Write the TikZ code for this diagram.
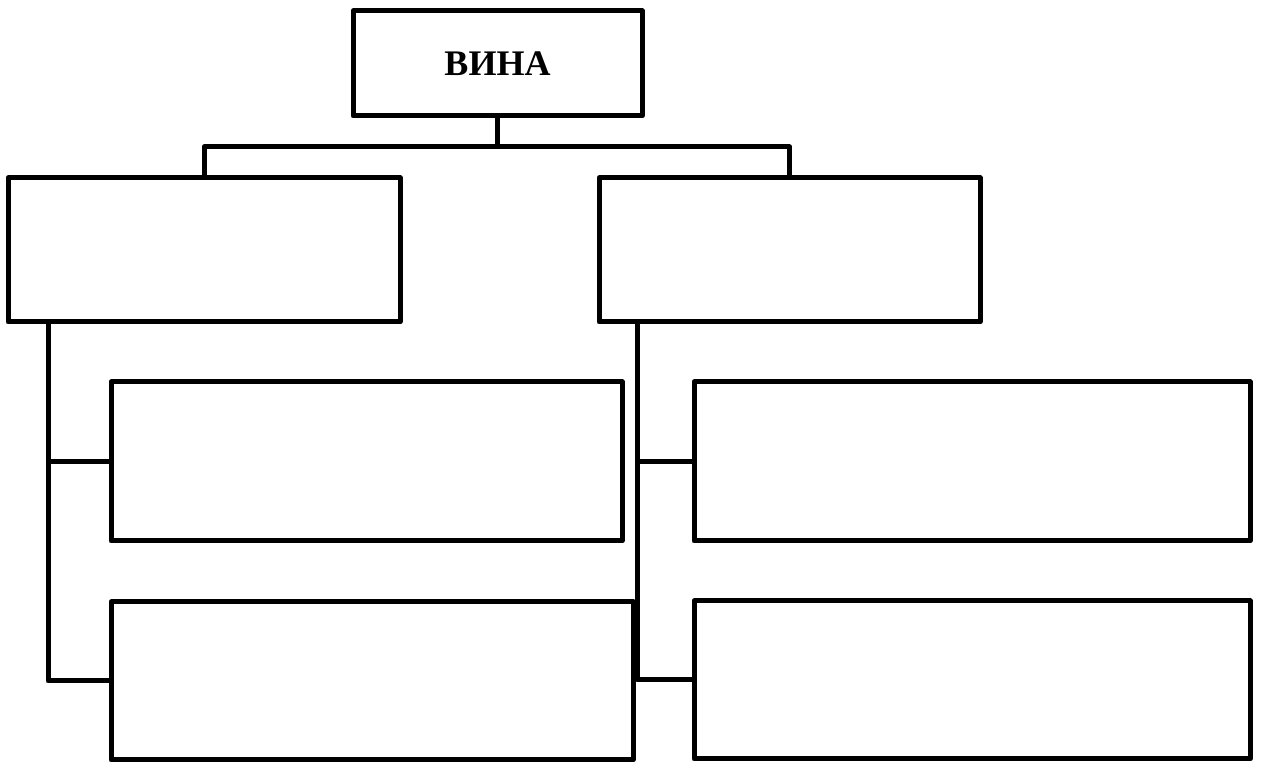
\documentclass[tikz,border=0pt]{standalone}
\usepackage{fontspec}
\setmainfont{Liberation Serif}
\begin{document}
\begin{tikzpicture}[x=0.5pt,y=-0.5pt,
  box/.style={draw,line width=2.5pt,line join=round,rectangle,inner sep=0pt,outer sep=0pt},
  conn/.style={line width=2.5pt,line join=round}]
\useasboundingbox (0,0) rectangle (1264,763);
\node[box,minimum width=144.5pt,minimum height=52.5pt,font=\fontsize{18}{20}\selectfont\bfseries] (top) at (497.5,63.5) {ВИНА};
\node[box,minimum width=196pt,minimum height=72pt] (A) at (204,250) {};
\node[box,minimum width=190.5pt,minimum height=72pt] (B) at (789.5,250) {};
\node[box,minimum width=255.5pt,minimum height=79.5pt] (L1) at (366.5,461.5) {};
\node[box,minimum width=261pt,minimum height=79pt] (L2) at (372,681) {};
\node[box,minimum width=278pt,minimum height=79.5pt] (R1) at (972,461.5) {};
\node[box,minimum width=278pt,minimum height=79pt] (R2) at (972,680) {};
\coordinate (j) at (497.5,147);
\coordinate (lA) at (48,322);
\coordinate (lB) at (637,322);
\draw[conn] (top.south) -- (j);
\draw[conn] (A.north) |- (j) -| (B.north);
\draw[conn] (lA) |- (L1.west);
\draw[conn] (lA) |- (L2.west);
\draw[conn] (lB) |- (R1.west);
\draw[conn] (lB) |- (R2.west);
\end{tikzpicture}
\end{document}
